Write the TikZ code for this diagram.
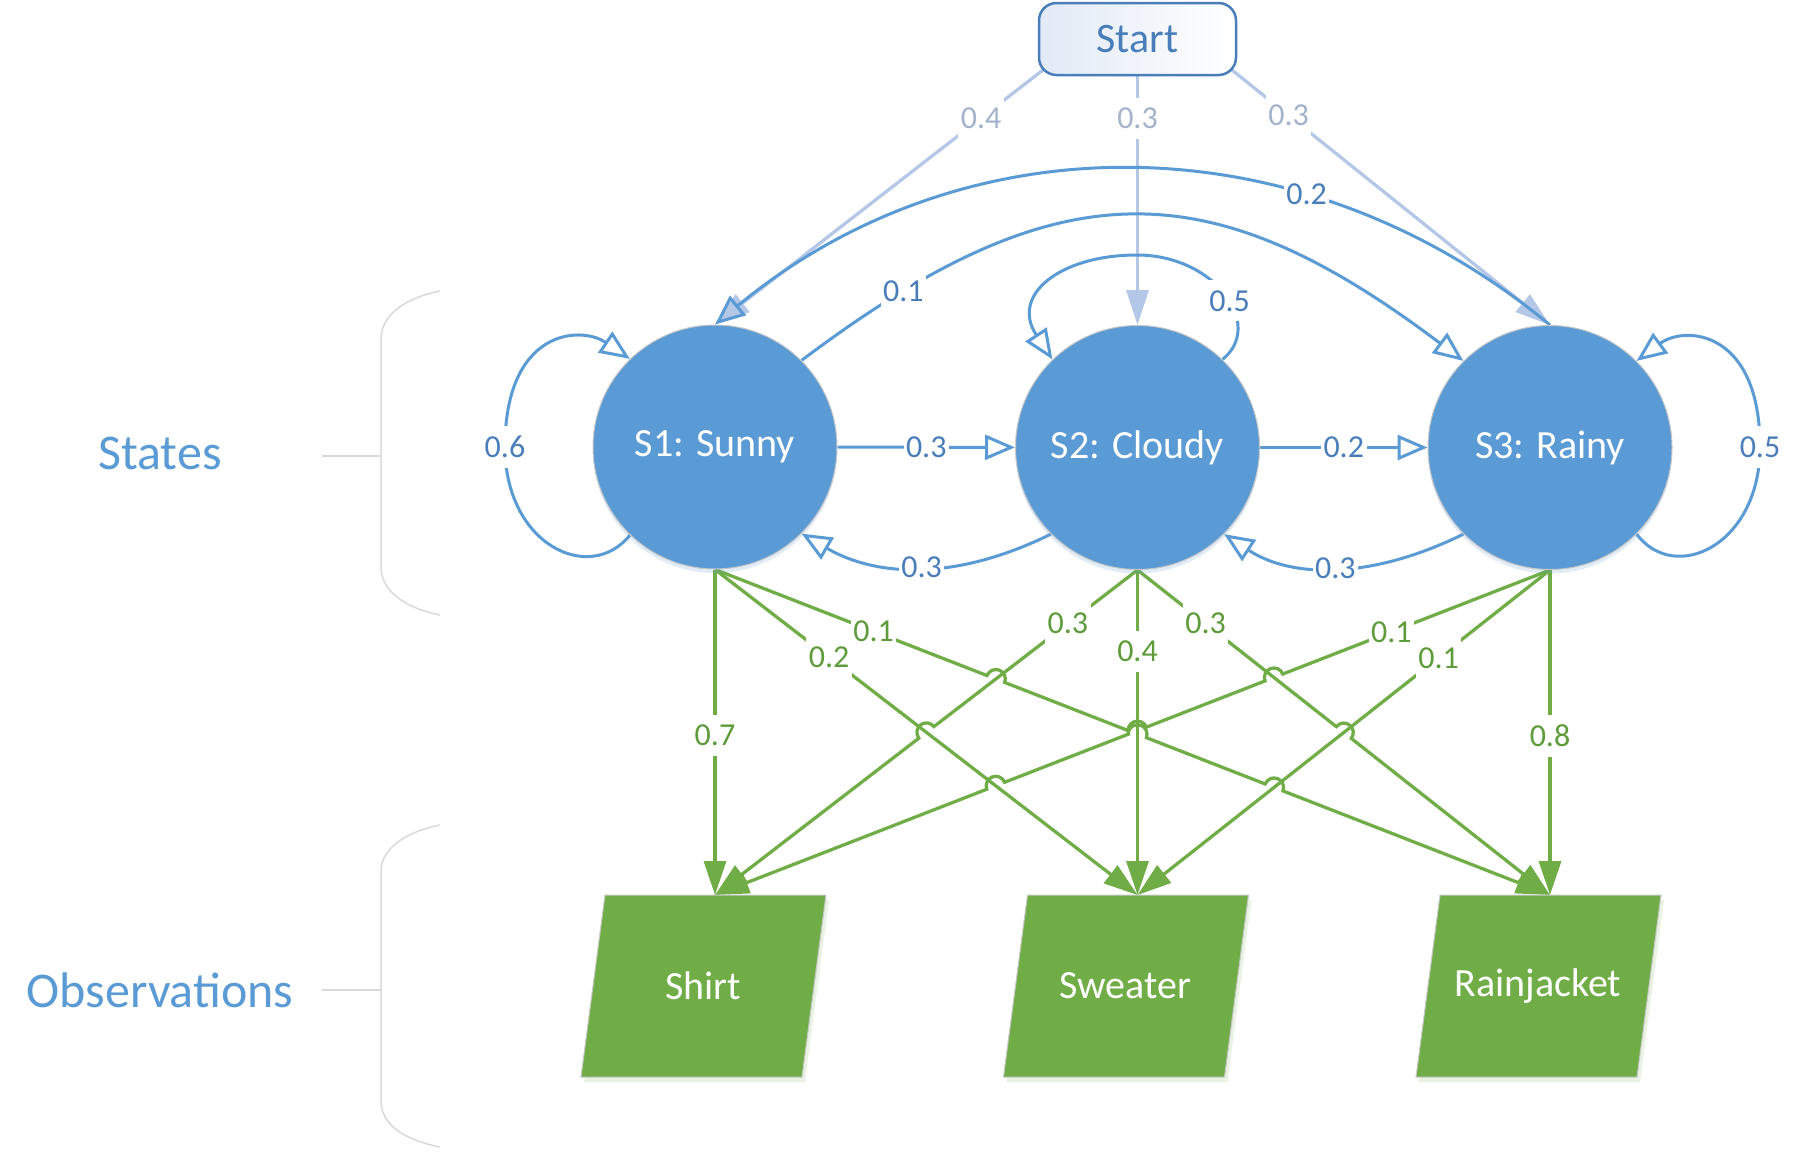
\documentclass[tikz,border=0pt]{standalone}
\usepackage{fontspec}
\setmainfont{Carlito}
\usetikzlibrary{arrows.meta,calc,shadows}
\definecolor{cblue}{HTML}{5B9BD5}
\definecolor{lblue}{HTML}{4A7EBB}
\definecolor{sblue}{HTML}{B4C7E7}
\definecolor{sgrey}{HTML}{A3B3CA}
\definecolor{cgreen}{HTML}{70AD47}
\definecolor{lgreen}{HTML}{5E9B3A}
\definecolor{brk}{HTML}{D9D9D9}
\definecolor{boxtint}{HTML}{E2EAF6}
\pgfdeclarelayer{bg}
\pgfdeclarelayer{edges}
\pgfsetlayers{bg,edges,main}
\newcommand\hopr{3.8pt}
\newcommand\labfont{\fontsize{12.8pt}{15pt}\selectfont}
\newcommand\obsbox[3]{%
  \fill[obsshadow] ({#2-110+3},{-895-5}) -- ({#2+111+3},{-895-5}) -- ({#2+87+3},{-1077-5}) -- ({#2-134+3},{-1077-5}) -- cycle;
  \filldraw[obsfill] ({#2-110},-895) -- ({#2+111},-895) -- ({#2+87},-1077) -- ({#2-134},-1077) -- cycle;
  \node[obstext] (#1) at ({#2-12},-986) {#3};
  \coordinate (#1T) at (#2,-895);
}
\begin{document}
\begin{tikzpicture}[x=0.4pt,y=0.4pt,
  state/.style={circle, fill=cblue, draw=black!22, line width=0.4pt, minimum size=97.6pt, inner sep=0pt,
    text=white, font=\fontsize{16pt}{19pt}\selectfont,
    drop shadow={shadow xshift=0pt, shadow yshift=-1.6pt, opacity=0.18, fill=cblue}},
  startbox/.style={draw=lblue, line width=1pt, rounded corners=7pt, left color=boxtint, right color=white,
    minimum width=78.8pt, minimum height=28.8pt, text=lblue, font=\fontsize{16.8pt}{20pt}\selectfont},
  obsshadow/.style={fill=cgreen, opacity=0.15},
  obsfill/.style={fill=cgreen, draw=black!22, line width=0.4pt},
  obstext/.style={text=white, font=\fontsize{16pt}{19pt}\selectfont, inner sep=0pt},
  grouplab/.style={text=cblue, font=\fontsize{20pt}{24pt}\selectfont},
  brkline/.style={draw=brk, line width=0.6pt},
  startarr/.style={draw=sblue, line width=1.3pt, -{Triangle[length=14pt,width=8.8pt,fill=sblue]}},
  tr/.style={draw=cblue, line width=1.2pt, -{Triangle[open,length=12pt,width=10pt]}},
  em/.style={draw=cgreen, line width=1.3pt, -{Triangle[length=13.6pt,width=8.8pt]}},
  lab/.style={fill=white, inner xsep=1pt, inner ysep=4pt, text=lblue, font=\labfont},
  slab/.style={lab, text=sgrey},
  glab/.style={lab, text=lgreen}
]
\begin{pgfonlayer}{bg}
  \fill[white] (0,0) rectangle (1801,-1167);
\end{pgfonlayer}
\useasboundingbox (0,0) rectangle (1801,-1167);

% group labels and brackets
\node[grouplab] (stlab) at (160,-453) {States};
\node[grouplab] (oblab) at (160,-990) {Observations};
\draw[brkline] (440,-291) .. controls (405,-298) and (381,-315) .. (381,-339) -- (381,-567)
  .. controls (381,-591) and (405,-608) .. (440,-615);
\draw[brkline] (322,-456) -- (381,-456);
\draw[brkline] (440,-825) .. controls (405,-832) and (381,-849) .. (381,-871) -- (381,-1101)
  .. controls (381,-1125) and (405,-1140) .. (440,-1147);
\draw[brkline] (322,-990) -- (381,-990);

% nodes
\node[startbox] (st) at (1137.5,-39) {Start};
\node[state] (s1) at (715,-447) {S1: Sunny};
\node[state] (s2) at (1137.5,-447.5) {S2: Cloudy};
\node[state] (s3) at (1550,-447.5) {S3: Rainy};
\obsbox{sh}{715}{Shirt}
\obsbox{sw}{1137.5}{Sweater}
\obsbox{rj}{1550}{Rainjacket}

\coordinate (stL) at ($(st.south west)+(10,10)$);
\coordinate (stR) at ($(st.south east)+(-10,10)$);
\coordinate (s1b) at (s1.south);
\coordinate (s2b) at (s2.south);
\coordinate (s3b) at (s3.south);

% crossings
\coordinate (xA) at (intersection of s1b--rjT and s2b--shT);
\coordinate (xB) at (intersection of s1b--rjT and s2b--swT);
\coordinate (xC) at (intersection of s1b--rjT and s3b--swT);
\coordinate (xD) at (intersection of s2b--shT and s1b--swT);
\coordinate (xE) at (intersection of s3b--shT and s2b--rjT);
\coordinate (xF) at (intersection of s3b--shT and s2b--swT);
\coordinate (xG) at (intersection of s3b--shT and s1b--swT);
\coordinate (xH) at (intersection of s2b--rjT and s3b--swT);

\begin{pgfonlayer}{edges}
% start arrows
\draw[startarr] (stL) -- (s1.north) node[slab,pos=.2]{0.4};
\draw[startarr] (st.south) -- (s2.north) node[slab,pos=.17]{0.3};
\draw[startarr] (stR) -- (s3.north) node[slab,pos=.19]{0.3};

% emissions without hops
\draw[em] (s1b) -- (shT);
\draw[em] (s1b) -- (swT);
\draw[em] (s2b) -- (swT);
\draw[em] (s3b) -- (swT);
\draw[em] (s3b) -- (rjT);
% emissions with hops
\draw[em] let \p1=($(rjT)-(s1b)$), \n1={atan2(\y1,\x1)} in
  (s1b) -- ($(xA)!\hopr!(s1b)$) arc[start angle=\n1+180, delta angle=-180, radius=\hopr]
  -- ($(xB)!\hopr!(s1b)$) arc[start angle=\n1+180, delta angle=-180, radius=\hopr]
  -- ($(xC)!\hopr!(s1b)$) arc[start angle=\n1+180, delta angle=-180, radius=\hopr]
  -- (rjT);
\draw[em] let \p1=($(shT)-(s2b)$), \n1={atan2(\y1,\x1)} in
  (s2b) -- ($(xD)!\hopr!(s2b)$) arc[start angle=\n1+180, delta angle=180, radius=\hopr]
  -- (shT);
\draw[em] let \p1=($(rjT)-(s2b)$), \n1={atan2(\y1,\x1)} in
  (s2b) -- ($(xH)!\hopr!(s2b)$) arc[start angle=\n1+180, delta angle=-180, radius=\hopr]
  -- (rjT);
\draw[em] let \p1=($(shT)-(s3b)$), \n1={atan2(\y1,\x1)} in
  (s3b) -- ($(xE)!\hopr!(s3b)$) arc[start angle=\n1+180, delta angle=180, radius=\hopr]
  -- ($(xF)!\hopr!(s3b)$) arc[start angle=\n1+180, delta angle=180, radius=\hopr]
  -- ($(xG)!\hopr!(s3b)$) arc[start angle=\n1+180, delta angle=180, radius=\hopr]
  -- (shT);
% emission labels
\path (s1b) -- (shT) node[glab,pos=.51]{0.7};
\path (s1b) -- (swT) node[glab,pos=.27]{0.2};
\path (s1b) -- (rjT) node[glab,pos=.19]{0.1};
\path (s2b) -- (shT) node[glab,pos=.165]{0.3};
\path (s2b) -- (swT) node[glab,pos=.25]{0.4};
\path (s2b) -- (rjT) node[glab,pos=.165]{0.3};
\path (s3b) -- (shT) node[glab,pos=.19]{0.1};
\path (s3b) -- (swT) node[glab,pos=.27]{0.1};
\path (s3b) -- (rjT) node[glab,pos=.51]{0.8};

% transitions
\draw[tr] (s1) -- (s2) node[lab,pos=.5]{0.3};
\draw[tr] (s2) -- (s3) node[lab,pos=.5]{0.2};
\draw[tr] (s2.225) .. controls (960,-579) and (880,-579) .. (s1.315) node[lab,pos=.5]{0.3};
\draw[tr] (s3.225) .. controls (1372.5,-579) and (1292.5,-579) .. (s2.315) node[lab,pos=.5]{0.3};
\draw[tr] (s1.45) .. controls (1057,-168) and (1208,-168) .. (s3.135) node[lab,pos=.14]{0.1};
\draw[tr] (s3.north) .. controls (1300,-118) and (965,-118) .. (s1.north) node[lab,pos=.3]{0.2};
\draw[tr] (s1.226) .. controls (590,-585) and (505,-545) .. (505,-447) node[lab]{0.6}
  .. controls (505,-330) and (580,-325) .. (s1.134);
\draw[tr] (s3.-45) .. controls (1675,-585) and (1760,-545) .. (1760,-447) node[lab]{0.5}
  .. controls (1760,-330) and (1685,-325) .. (s3.45);
\draw[tr] (s2.46) .. controls (1265,-325) and (1215,-255) .. (1137,-255) node[lab,pos=.45]{0.5}
  .. controls (1060,-255) and (1010,-295) .. (s2.134);
\end{pgfonlayer}
\end{tikzpicture}
\end{document}
